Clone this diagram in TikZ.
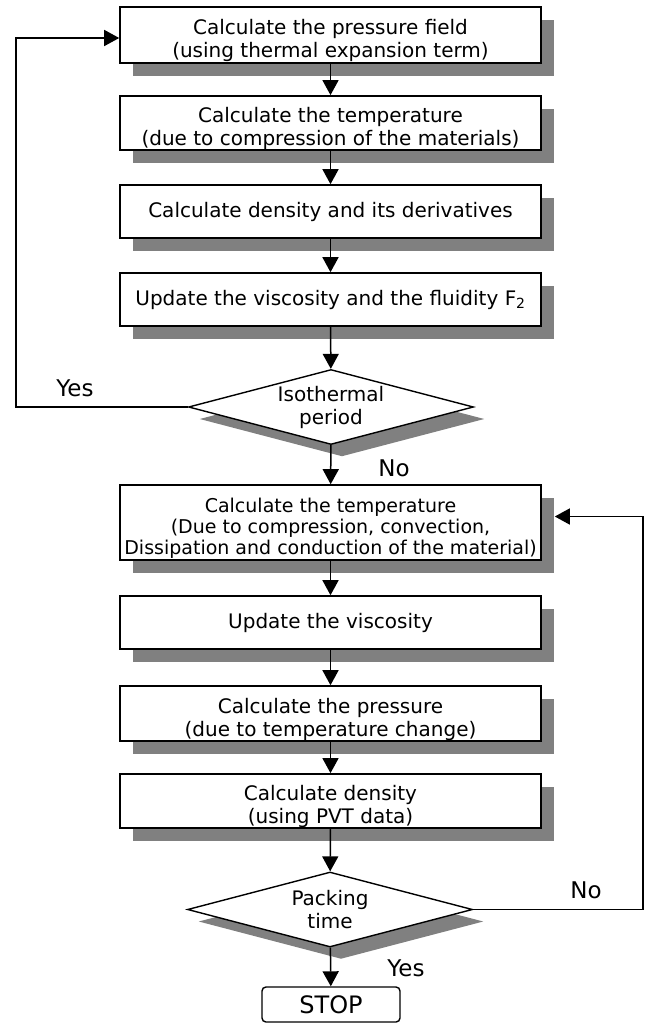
\documentclass[tikz,border=0pt]{standalone}
\usepackage{fontspec}
\setmainfont{DejaVu Sans}
\usetikzlibrary{shapes.geometric, arrows.meta, shadows}

% pushes a two-line text a bit lower in its box
\newcommand{\topgap}{\rule{0pt}{27pt}}

\begin{document}
\begin{tikzpicture}[x=1pt, y=-1pt,
    font=\fontsize{20}{23}\selectfont,
    box/.style={draw, line width=1.6pt, fill=white, minimum width=421pt,
        inner sep=0pt, align=center,
        drop shadow={shadow xshift=13pt, shadow yshift=-13pt, fill=black!50, opacity=1}},
    test/.style={diamond, draw, line width=1.4pt, fill=white, aspect=3.8,
        minimum width=285pt, minimum height=75pt, inner sep=0pt, align=center,
        drop shadow={shadow xshift=11pt, shadow yshift=-12pt, fill=black!50, opacity=1}},
    link/.style={-{Triangle[width=16pt,length=15pt]}, line width=1.5pt},
    lbl/.style={font=\fontsize{23}{26}\selectfont}]
    \useasboundingbox (0,0) rectangle (649,1024);

    % isothermal loop
    \node[box, minimum height=56pt] (pres) at (330.5,35) {\topgap Calculate the pressure field\\(using thermal expansion term)};
    \node[box, minimum height=54pt] (temp) at (330.5,123) {\topgap Calculate the temperature\\(due to compression of the materials)};
    \node[box, minimum height=53pt] (dens) at (330.5,211.5) {Calculate density and its derivatives};
    \node[box, minimum height=53pt] (visc) at (330.5,299.5) {Update the viscosity and the fluidity F\textsubscript{2}};
    \node[test] (iso) at (331,407) {Isothermal\\period};

    % packing loop
    \node[box, minimum height=75pt, font=\fontsize{19}{21}\selectfont] (tempb) at (330.5,522.5) {\rule{0pt}{26.5pt}Calculate the temperature\\(Due to compression, convection,\\Dissipation and conduction of the material)};
    \node[box, minimum height=53pt] (viscb) at (330.5,622.5) {Update the viscosity};
    \node[box, minimum height=55pt] (presb) at (330.5,713.5) {\topgap Calculate the pressure\\(due to temperature change)};
    \node[box, minimum height=54pt] (densb) at (330.5,801) {\topgap Calculate density\\(using PVT data)};
    \node[test] (pack) at (330,909.5) {Packing\\time};
    \node[draw, rounded corners=4pt, line width=1.4pt, minimum width=138pt, minimum height=35pt,
        font=\fontsize{24}{28}\selectfont] (stop) at (331,1004.5) {STOP};

    % rails for the loops
    \coordinate (leftrail) at (16,0);
    \coordinate (rightrail) at (643,0);

    % connectors
    \draw[link] (pres) -- (temp);
    \draw[link] (temp) -- (dens);
    \draw[link] (dens) -- (visc);
    \draw[link] (visc) -- (iso);
    \draw[link] (iso.west) -- (iso.west -| leftrail) |- ([yshift=-3pt]pres.west);
    \draw[link] (iso) -- (tempb);
    \draw[link] (tempb) -- (viscb);
    \draw[link] (viscb) -- (presb);
    \draw[link] (presb) -- (densb);
    \draw[link] (densb) -- (pack);
    \draw[link] (pack.east) -- (pack.east -| rightrail) |- ([xshift=13pt, yshift=6pt]tempb.east);
    \draw[link] (pack) -- (stop);

    % labels
    \node[lbl] (yesiso) at (75,388) {Yes};
    \node[lbl] (noiso) at (394,468) {No};
    \node[lbl] (nopack) at (586,890) {No};
    \node[lbl] (yespack) at (406,968) {Yes};
\end{tikzpicture}
\end{document}
